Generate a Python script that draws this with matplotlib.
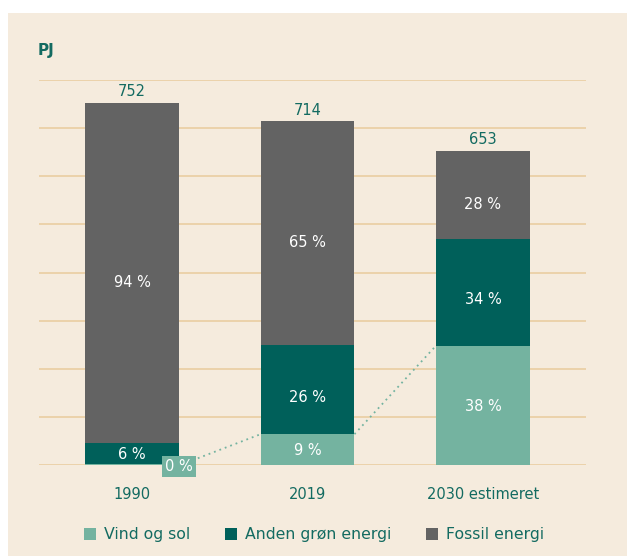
import matplotlib.pyplot as plt
from matplotlib.patches import Patch, Rectangle

# --- Data (PJ) ---
years = ["1990", "2019", "2030 estimeret"]
totals = [752, 714, 653]
vind_sol = [3, 64, 248]
anden_groen = [42, 186, 222]
fossil = [707, 464, 183]
pct_vind = ["0 %", "9 %", "38 %"]
pct_anden = ["6 %", "26 %", "34 %"]
pct_fossil = ["94 %", "65 %", "28 %"]
series_names = ["Vind og sol", "Anden grøn energi", "Fossil energi"]

# --- Style ---
BG = "#f5ebdd"
GRID = "#e9cb9c"
TEAL_TXT = "#136b61"
C_VIND = "#74b3a0"
C_ANDEN = "#00605a"
C_FOSSIL = "#636363"
plt.rcParams['font.family'] = ['DejaVu Sans']

fig = plt.figure(figsize=(6.27, 5.56), dpi=100)
fig.patch.set_facecolor("white")
fig.patches.append(Rectangle((8 / 627, 0), 1, 543 / 556, transform=fig.transFigure,
                             facecolor=BG, edgecolor="none", zorder=-10))

ax = fig.add_axes([39 / 627, 91 / 556, 547 / 627, 385 / 556])
ax.set_facecolor("none")
x = list(range(len(years)))
w = 0.535

# gridlines
for gy in range(0, 900, 100):
    ax.axhline(gy, color=GRID, lw=1.1, zorder=1)

ax.bar(x, vind_sol, w, color=C_VIND, zorder=3)
bottom2 = vind_sol
ax.bar(x, anden_groen, w, bottom=bottom2, color=C_ANDEN, zorder=3)
bottom3 = [a + b for a, b in zip(vind_sol, anden_groen)]
ax.bar(x, fossil, w, bottom=bottom3, color=C_FOSSIL, zorder=3)


def seg_label(xx, yy, txt, dy):
    ax.annotate(txt, (xx, yy), xytext=(0, dy), textcoords="offset points",
                ha="center", va="center", color="white", fontsize=10.5, zorder=5)


# percent labels inside segments (sat a bit below centre, like the original)
for i in x:
    if i > 0:
        seg_label(i, vind_sol[i] / 2, pct_vind[i], -1)
        seg_label(i, bottom2[i] + anden_groen[i] / 2, pct_anden[i], -5.5)
    else:
        seg_label(i, bottom2[i] + anden_groen[i] / 2, pct_anden[i], -1)
    seg_label(i, bottom3[i] + fossil[i] / 2, pct_fossil[i], -7)
    ax.text(i, totals[i] + 8, str(totals[i]), ha="center", va="bottom",
            color=TEAL_TXT, fontsize=10.5, zorder=5)

# 0 % label box for 1990
ax.text(w / 2, -3, pct_vind[0], ha="center", va="center", color="white", fontsize=10.5,
        zorder=6, bbox=dict(boxstyle="square,pad=0.22", facecolor=C_VIND, edgecolor="none"))

# dotted connectors
ax.plot([0.375, 1 - w / 2], [14, vind_sol[1]], ls=(0, (1, 2.2)), color=C_VIND, lw=1.3, zorder=4)
ax.plot([1 + w / 2, 2 - w / 2], [vind_sol[1], vind_sol[2]], ls=(0, (1, 2.2)),
        color=C_VIND, lw=1.3, zorder=4)

ax.set_xlim(-0.53, 2.587)
ax.set_ylim(0, 800)
ax.set_xticks(x)
ax.set_xticklabels(years, color=TEAL_TXT, fontsize=10.5)
ax.tick_params(axis="x", length=0, pad=16)
ax.set_yticks([])
for s in ax.spines.values():
    s.set_visible(False)

fig.text(38 / 627, 1 - 50.5 / 556, "PJ", color=TEAL_TXT, fontsize=11, fontweight="bold",
         ha="left", va="center")

handles = [Patch(facecolor=c, edgecolor="none") for c in (C_VIND, C_ANDEN, C_FOSSIL)]
leg = fig.legend(handles, series_names, loc="center", bbox_to_anchor=(0.501, 21 / 556),
                 ncol=3, frameon=False, fontsize=11.3, handlelength=0.77, handleheight=0.77,
                 handletextpad=0.5, columnspacing=2.2)
for t in leg.get_texts():
    t.set_color(TEAL_TXT)

fig.savefig("out.png", dpi=100, facecolor=fig.get_facecolor())
